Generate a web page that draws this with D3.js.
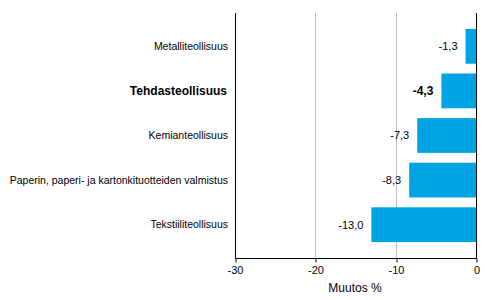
<!DOCTYPE html>
<html>
<head>
<meta charset="utf-8">
<script src="https://cdn.jsdelivr.net/npm/d3@7"></script>
<style>
  body { margin: 0; background: #fff; }
  svg { display: block; font-family: "Liberation Sans", Arial, sans-serif; }
</style>
</head>
<body>
<svg id="chart" width="485" height="300"></svg>
<script>
const categories = [
  'Metalliteollisuus',
  'Tehdasteollisuus',
  'Kemianteollisuus',
  'Paperin, paperi- ja kartonkituotteiden valmistus',
  'Tekstiiliteollisuus'
];
const values = [-1.3, -4.3, -7.3, -8.3, -13.0];
const boldCategories = ['Tehdasteollisuus'];
const xTicks = [-30, -20, -10, 0];
const xTitle = 'Muutos %';

const svg = d3.select('#chart');
const plotTop = 13, plotBottom = 258;

const x = d3.scaleLinear().domain([-30, 0]).range([234.5, 476]);
const y = d3.scaleBand().domain(categories).range([24, 247]).paddingInner(0.22).paddingOuter(0.11);

const fmt = v => d3.format('.1f')(v).replace('.', ',').replace('−', '-');
const isBold = d => boldCategories.includes(d);

// gridlines
svg.append('g')
  .selectAll('line')
  .data(xTicks.filter(t => t !== -30 && t !== 0))
  .enter()
  .append('line')
  .attr('x1', d => Math.round(x(d)) + 0.5)
  .attr('x2', d => Math.round(x(d)) + 0.5)
  .attr('y1', plotTop)
  .attr('y2', plotBottom)
  .attr('stroke', '#bdbdbd')
  .attr('stroke-width', 1);

// bars
svg.append('g')
  .selectAll('rect')
  .data(categories)
  .enter()
  .append('rect')
  .attr('x', (d, i) => x(values[i]))
  .attr('y', d => y(d))
  .attr('width', (d, i) => x(0) - x(values[i]))
  .attr('height', y.bandwidth())
  .attr('fill', '#00a4e4');

// value labels
svg.append('g')
  .selectAll('text')
  .data(categories)
  .enter()
  .append('text')
  .attr('x', (d, i) => x(values[i]) - 8)
  .attr('y', d => y(d) + y.bandwidth() / 2)
  .attr('dy', '0.35em')
  .attr('text-anchor', 'end')
  .style('font-size', d => isBold(d) ? '12px' : '11px')
  .style('font-weight', d => isBold(d) ? 'bold' : 'normal')
  .attr('fill', '#000')
  .text((d, i) => fmt(values[i]));

// category labels
svg.append('g')
  .selectAll('text')
  .data(categories)
  .enter()
  .append('text')
  .attr('x', d => isBold(d) ? 227 : 228)
  .attr('y', d => y(d) + y.bandwidth() / 2)
  .attr('dy', '0.35em')
  .attr('text-anchor', 'end')
  .style('font-size', d => isBold(d) ? '12px' : '10.5px')
  .style('font-weight', d => isBold(d) ? 'bold' : 'normal')
  .attr('fill', '#000')
  .text(d => d);

// left and zero lines
[x(-30), x(0)].forEach(px => {
  svg.append('line')
    .attr('x1', Math.round(px) + 0.5)
    .attr('x2', Math.round(px) + 0.5)
    .attr('y1', plotTop)
    .attr('y2', plotBottom + 0.5)
    .attr('stroke', '#000')
    .attr('stroke-width', 1);
});

// x axis
const xAxis = svg.append('g')
  .attr('transform', `translate(0.5,${plotBottom + 0.5})`)
  .call(d3.axisBottom(x).tickValues(xTicks).tickSize(4).tickPadding(4).tickFormat(d => String(d)));
xAxis.select('.domain').attr('stroke', '#000').attr('d', `M${Math.round(x(-30))},0H${Math.round(x(0))}`);
xAxis.selectAll('.tick line').attr('stroke', '#000')
  .attr('transform', d => `translate(${Math.round(x(d)) - x(d)},0)`);
xAxis.selectAll('.tick text')
  .style('font-family', '"Liberation Sans", Arial, sans-serif')
  .style('font-size', '11px')
  .attr('fill', '#000');

svg.append('text')
  .attr('x', 355)
  .attr('y', 292)
  .attr('text-anchor', 'middle')
  .style('font-size', '12px')
  .attr('fill', '#000')
  .text(xTitle);
</script>
</body>
</html>
